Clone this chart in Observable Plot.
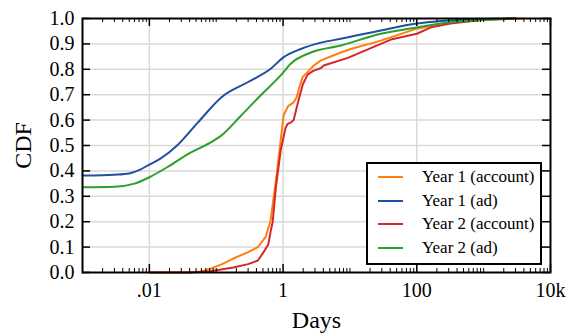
<!DOCTYPE html>
<html>
<head>
<meta charset="utf-8">
<script src="https://cdn.jsdelivr.net/npm/d3@7"></script>
<script src="https://cdn.jsdelivr.net/npm/@observablehq/plot@0.6"></script>
<style>
  body { margin: 0; background: white; }
  #wrap { position: relative; width: 568px; height: 335px; font-family: "Liberation Serif", "DejaVu Serif", serif; }
  #legend { position: absolute; left: 366px; top: 162px; width: 172px; height: 99px; border: 2px solid black; background: white; }
  .row { position: absolute; left: 0; height: 20px; font-size: 17px; line-height: 20px; white-space: nowrap; }
  .sw { position: absolute; left: 10px; top: 9px; width: 25px; height: 2px; }
  .lb { position: absolute; left: 54px; top: 0; }
</style>
</head>
<body>
<div id="wrap"></div>
<script>
// ---- data ----
const seriesNames = ["Year 1 (account)", "Year 1 (ad)", "Year 2 (account)", "Year 2 (ad)"];
const seriesColors = ["#ff7f0e", "#1f4f9f", "#d62728", "#2ca02c"];

const y1AccountDays = [0.01, 0.04, 0.06, 0.082, 0.12, 0.18, 0.3, 0.42, 0.55, 0.65, 0.78, 0.92, 1.02, 1.19, 1.44, 1.6, 1.75, 1.97, 2.34, 2.88, 3.7, 7.3, 10.3, 29, 100, 320, 1000, 4000];
const y1AccountCdf  = [0, 0, 0.004, 0.015, 0.032, 0.055, 0.08, 0.1, 0.14, 0.205, 0.36, 0.52, 0.62, 0.655, 0.67, 0.69, 0.73, 0.77, 0.79, 0.815, 0.835, 0.866, 0.88, 0.913, 0.96, 0.985, 0.995, 1.0];

const y1AdDays = [0.001, 0.002, 0.003, 0.005, 0.007, 0.01, 0.015, 0.026, 0.053, 0.12, 0.3, 0.66, 1.0, 1.84, 3.7, 7.3, 29, 100, 230, 1000, 3000];
const y1AdCdf  = [0.382, 0.383, 0.385, 0.39, 0.403, 0.425, 0.45, 0.5, 0.59, 0.69, 0.75, 0.803, 0.846, 0.88, 0.905, 0.92, 0.953, 0.98, 0.99, 0.998, 1.0];

const y2AccountDays = [0.01, 0.04, 0.082, 0.18, 0.3, 0.42, 0.51, 0.6, 0.65, 0.7, 0.78, 0.92, 1.09, 1.17, 1.3, 1.44, 1.71, 1.97, 2.34, 2.88, 3.7, 4.06, 9.3, 29, 41, 100, 163, 320, 1000, 3000];
const y2AccountCdf  = [0, 0, 0.005, 0.02, 0.033, 0.047, 0.08, 0.11, 0.16, 0.2, 0.335, 0.48, 0.57, 0.585, 0.59, 0.6, 0.68, 0.74, 0.78, 0.795, 0.805, 0.815, 0.845, 0.9, 0.917, 0.94, 0.965, 0.98, 0.995, 1.0];

const y2AdDays = [0.001, 0.003, 0.006, 0.01, 0.02, 0.04, 0.08, 0.12, 0.23, 0.46, 0.92, 1.3, 2.6, 7.3, 29, 100, 320, 1000, 3000];
const y2AdCdf  = [0.336, 0.338, 0.35, 0.375, 0.42, 0.47, 0.51, 0.54, 0.615, 0.697, 0.776, 0.822, 0.866, 0.894, 0.94, 0.965, 0.985, 0.995, 1.0];

const yTicks = [0, 0.1, 0.2, 0.3, 0.4, 0.5, 0.6, 0.7, 0.8, 0.9, 1.0];
const yGrid = [0.1, 0.2, 0.3, 0.4, 0.5, 0.6, 0.7, 0.8, 0.9];
const xTickValues = [0.01, 1, 100, 10000];
const xTickLabels = [".01", "1", "100", "10k"];

// ---- build ----
const seriesDays = [y1AccountDays, y1AdDays, y2AccountDays, y2AdDays];
const seriesCdf = [y1AccountCdf, y1AdCdf, y2AccountCdf, y2AdCdf];
const tables = seriesNames.map((name, s) => seriesDays[s].map((d, i) => ({series: name, days: d, cdf: seriesCdf[s][i]})));

const xMinor = [];
for (let e = -3; e <= 3; e++) for (let k = 1; k <= 9; k++) {
  const v = k * Math.pow(10, e);
  if (!xTickValues.some(t => Math.abs(t - v) / v < 1e-9) && v > 0.001) xMinor.push(v);
}

const W = 568, H = 335, ML = 82, MR = 18, MT = 18, MB = 63;
const fw = W - ML - MR, fh = H - MT - MB;

const chart = Plot.plot({
  width: W, height: H,
  marginLeft: ML, marginRight: MR, marginTop: MT, marginBottom: MB,
  style: {fontFamily: "Liberation Serif, serif", fontSize: "20px", background: "white", color: "black"},
  x: {type: "log", domain: [0.001, 10000]},
  y: {domain: [0, 1]},
  marks: [
    Plot.gridY(yGrid, {stroke: "#d9d9d9", strokeOpacity: 1, strokeWidth: 1.5}),
    Plot.gridX([0.01, 1, 100], {stroke: "#d9d9d9", strokeOpacity: 1, strokeWidth: 1.5}),
    ...tables.map((t, s) => Plot.line(t, {x: "days", y: "cdf", stroke: seriesColors[s], strokeWidth: 2, curve: s % 2 ? "monotone-x" : "linear"})),
    Plot.tickY(yTicks, {y: d => d, stroke: "black", strokeWidth: 1.5, insetRight: fw - 8}),
    Plot.tickY(yTicks, {y: d => d, stroke: "black", strokeWidth: 1.5, insetLeft: fw - 8}),
    Plot.tickX(xTickValues, {x: d => d, stroke: "black", strokeWidth: 1.5, insetTop: fh - 8}),
    Plot.tickX(xTickValues, {x: d => d, stroke: "black", strokeWidth: 1.5, insetBottom: fh - 8}),
    Plot.tickX(xMinor, {x: d => d, stroke: "black", strokeWidth: 1, insetTop: fh - 4}),
    Plot.tickX(xMinor, {x: d => d, stroke: "black", strokeWidth: 1, insetBottom: fh - 4}),
    Plot.axisY({ticks: yTicks, tickFormat: d => d.toFixed(1), tickSize: 0, tickPadding: 8, label: null, fontSize: 20}),
    Plot.axisX({ticks: xTickValues, tickFormat: d => xTickLabels[xTickValues.indexOf(d)], tickSize: 0, tickPadding: 10, label: null, fontSize: 20}),
    Plot.text(["Days"], {text: d => d, frameAnchor: "bottom", lineAnchor: "middle", textAnchor: "middle", dy: 48, fontSize: 24}),
    Plot.text(["CDF"], {text: d => d, frameAnchor: "left", lineAnchor: "middle", textAnchor: "middle", rotate: -90, dx: -59, fontSize: 24}),
    Plot.frame({stroke: "black", strokeWidth: 2})
  ]
});

const wrap = document.getElementById("wrap");
wrap.appendChild(chart);

const legend = document.createElement("div");
legend.id = "legend";
seriesNames.forEach((name, i) => {
  const row = document.createElement("div");
  row.className = "row";
  row.style.top = (3 + i * 23.7) + "px";
  row.style.width = "100%";
  const sw = document.createElement("div");
  sw.className = "sw";
  sw.style.background = seriesColors[i];
  const lb = document.createElement("div");
  lb.className = "lb";
  lb.textContent = name;
  row.appendChild(sw); row.appendChild(lb);
  legend.appendChild(row);
});
wrap.appendChild(legend);
</script>
</body>
</html>
